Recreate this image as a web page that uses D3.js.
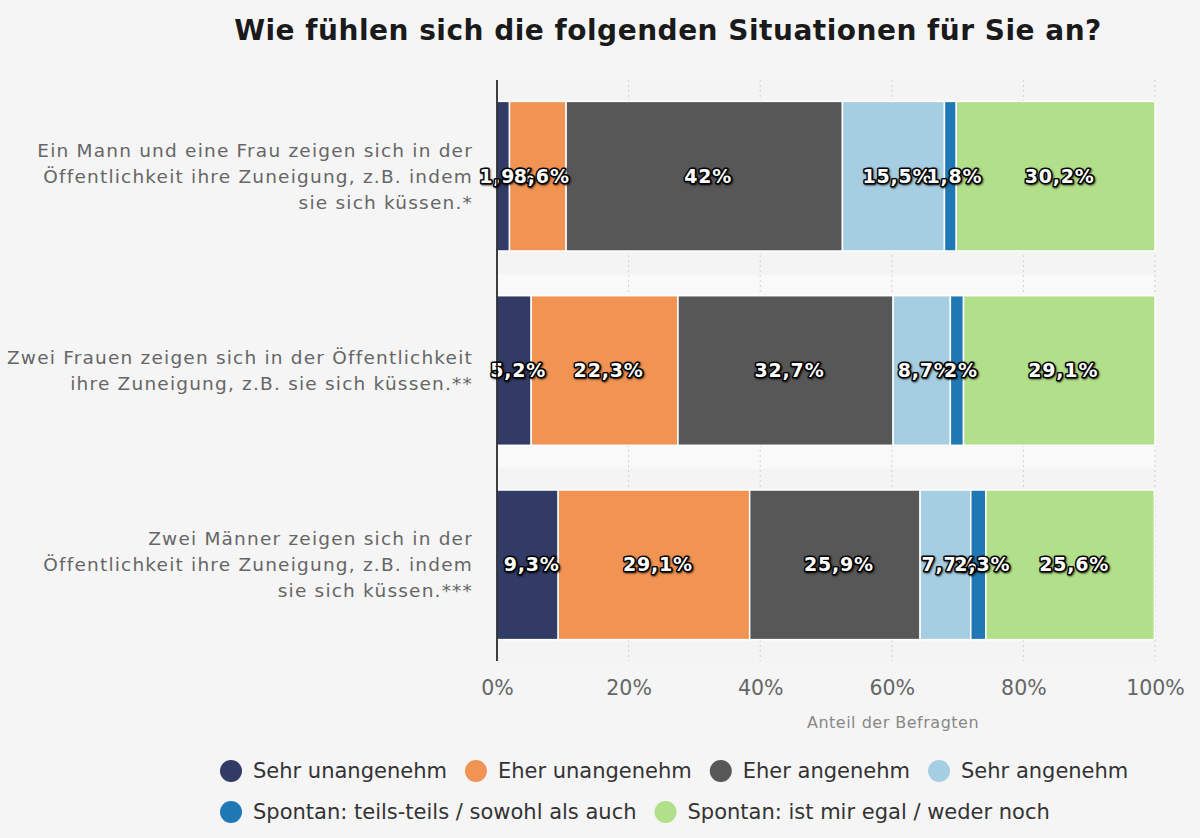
<!DOCTYPE html>
<html>
<head>
<meta charset="utf-8">
<script src="https://cdn.jsdelivr.net/npm/d3@7"></script>
<style>
  body { margin: 0; background: #f5f5f5; }
  svg { font-family: "DejaVu Sans", sans-serif; }
</style>
</head>
<body>
<div id="chart"></div>
<script>
// categories (rows), top to bottom
var categories = [
    ["Ein Mann und eine Frau zeigen sich in der", "Öffentlichkeit ihre Zuneigung, z.B. indem", "sie sich küssen.*"],
    ["Zwei Frauen zeigen sich in der Öffentlichkeit", "ihre Zuneigung, z.B. sie sich küssen.**"],
    ["Zwei Männer zeigen sich in der", "Öffentlichkeit ihre Zuneigung, z.B. indem", "sie sich küssen.***"]
];
var series = ["Sehr unangenehm", "Eher unangenehm", "Eher angenehm", "Sehr angenehm",
              "Spontan: teils-teils / sowohl als auch", "Spontan: ist mir egal / weder noch"];
var colors = ["#313b65", "#f19352", "#575757", "#a6cee3", "#1f78b4", "#b2df8a"];
// values per series, one per category
var sehr_unangenehm = [1.9, 5.2, 9.3];
var eher_unangenehm = [8.6, 22.3, 29.1];
var eher_angenehm   = [42, 32.7, 25.9];
var sehr_angenehm   = [15.5, 8.7, 7.7];
var teils_teils     = [1.8, 2, 2.3];
var egal            = [30.2, 29.1, 25.6];
var xTicks = [0, 20, 40, 60, 80, 100];

var values = [sehr_unangenehm, eher_unangenehm, eher_angenehm, sehr_angenehm, teils_teils, egal];

function draw_chart() {
    var width = 1200, height = 838;
    var margin = {left: 497, right: 45, top: 80, bottom: 177};

    var svg = d3.select("#chart").append("svg")
        .attr("width", width).attr("height", height);

    var de = d3.formatLocale({decimal: ",", thousands: ".", grouping: [3], currency: ["", "€"]});
    var fmt = de.format("~g");

    var x = d3.scaleLinear().domain([0, 100])
        .range([margin.left, width - margin.right]);
    var y = d3.scaleBand().domain(d3.range(categories.length))
        .range([margin.top, height - margin.bottom])
        .paddingInner(0.23).paddingOuter(0.11);

    // alternating row bands
    var step = y.step();
    svg.selectAll("rect.band")
        .data(d3.range(categories.length))
        .enter().append("rect")
        .attr("x", margin.left)
        .attr("y", function(d) { return margin.top + d * step; })
        .attr("width", x(100) - margin.left)
        .attr("height", step)
        .attr("fill", function(d) { return d % 2 ? "#f9f9f9" : "#f4f4f4"; });

    // gridlines
    svg.selectAll("line.grid")
        .data(xTicks.slice(1))
        .enter().append("line")
        .attr("x1", function(d) { return x(d); })
        .attr("x2", function(d) { return x(d); })
        .attr("y1", margin.top)
        .attr("y2", height - margin.bottom)
        .attr("stroke", "#d0d0d0")
        .attr("stroke-dasharray", "2,3");

    // stacked data
    var rows = categories.map(function(c, i) {
        var r = {};
        series.forEach(function(s, k) { r[s] = values[k][i]; });
        return r;
    });
    var stacked = d3.stack().keys(series)(rows);

    var layers = svg.selectAll("g.layer")
        .data(stacked)
        .enter().append("g")
        .attr("fill", function(d, i) { return colors[i]; });

    layers.selectAll("rect")
        .data(function(d) { return d; })
        .enter().append("rect")
        .attr("x", function(d) { return x(d[0]); })
        .attr("y", function(d, i) { return y(i); })
        .attr("width", function(d) { return x(d[1]) - x(d[0]); })
        .attr("height", y.bandwidth())
        .attr("stroke", "#ffffff")
        .attr("stroke-width", 1.5);

    // value labels (overlaps on thin segments, like the original)
    stacked.forEach(function(layer) {
        svg.append("g").selectAll("text")
            .data(layer)
            .enter().append("text")
            .attr("x", function(d) { return (x(d[0]) + x(d[1])) / 2 + 4; })
            .attr("y", function(d, i) { return y(i) + y.bandwidth() / 2; })
            .attr("dy", "0.35em")
            .attr("text-anchor", "middle")
            .attr("font-size", 19)
            .attr("font-weight", "bold")
            .attr("letter-spacing", 0.8)
            .attr("fill", "#ffffff")
            .attr("stroke", "#000000")
            .attr("stroke-width", 3)
            .attr("stroke-linejoin", "round")
            .attr("paint-order", "stroke")
            .style("text-shadow", "1px 1px 2px rgba(0,0,0,0.6)")
            .text(function(d) { return fmt(+(d[1] - d[0]).toFixed(1)) + "%"; });
    });

    // y axis line
    svg.append("line")
        .attr("x1", margin.left).attr("x2", margin.left)
        .attr("y1", margin.top).attr("y2", height - margin.bottom)
        .attr("stroke", "#000").attr("stroke-width", 1.5);

    // category labels
    var catG = svg.selectAll("text.cat")
        .data(categories)
        .enter().append("text")
        .attr("text-anchor", "end")
        .attr("font-size", 18.5)
        .attr("letter-spacing", 1.2)
        .attr("fill", "#666666");
    catG.each(function(lines, i) {
        var cy = y(i) + y.bandwidth() / 2;
        var lh = 26;
        var t = d3.select(this);
        lines.forEach(function(l, j) {
            t.append("tspan")
                .attr("x", margin.left - 24)
                .attr("y", cy + (j - (lines.length - 1) / 2) * lh)
                .attr("dy", "0.35em")
                .text(l);
        });
    });

    // x axis
    var xAxis = svg.append("g")
        .attr("transform", "translate(0," + (height - margin.bottom) + ")")
        .call(d3.axisBottom(x).tickValues(xTicks).tickSize(0).tickPadding(19)
              .tickFormat(function(d) { return d + "%"; }));
    xAxis.select(".domain").remove();
    xAxis.selectAll("text")
        .attr("font-family", "DejaVu Sans, sans-serif")
        .attr("font-size", 20.5)
        .attr("fill", "#666666");

    svg.append("text")
        .attr("x", 893).attr("y", 728)
        .attr("text-anchor", "middle")
        .attr("font-size", 16)
        .attr("letter-spacing", 0.5)
        .attr("fill", "#888888")
        .text("Anteil der Befragten");

    // title
    svg.append("text")
        .attr("x", 668).attr("y", 40)
        .attr("text-anchor", "middle")
        .attr("font-size", 28)
        .attr("letter-spacing", 0.5)
        .attr("font-weight", "bold")
        .attr("fill", "#1a1a1a")
        .text("Wie fühlen sich die folgenden Situationen für Sie an?");

    // legend (flow layout)
    var legend = svg.append("g");
    var lx = 220, ly = 771, maxX = 1150, rowH = 41;
    series.forEach(function(s, i) {
        var item = legend.append("g");
        item.append("circle")
            .attr("cx", 11).attr("cy", 0).attr("r", 11)
            .attr("fill", colors[i]);
        var t = item.append("text")
            .attr("x", 33).attr("dy", "0.35em")
            .attr("font-size", 21)
            .attr("fill", "#333333")
            .text(s);
        var w = 33 + t.node().getComputedTextLength();
        if (lx + w > maxX) { lx = 220; ly += rowH; }
        item.attr("transform", "translate(" + lx + "," + ly + ")");
        lx += w + 18;
    });
}

window.onload = draw_chart;
</script>
</body>
</html>
